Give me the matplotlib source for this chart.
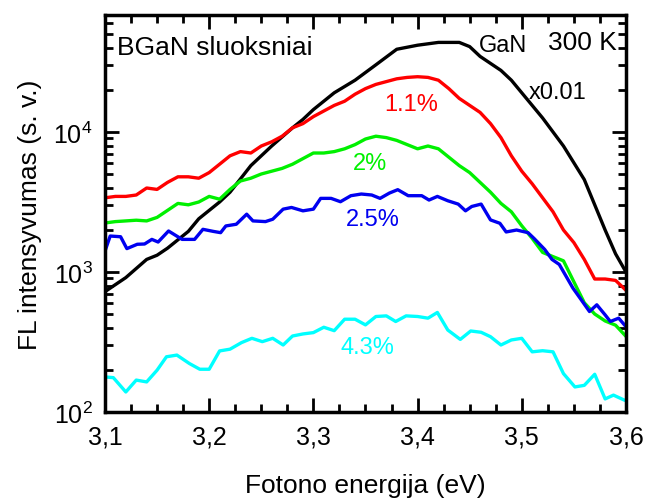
import matplotlib
matplotlib.use("Agg")
import matplotlib.pyplot as plt
from matplotlib.ticker import FixedLocator, MultipleLocator, LogLocator, NullFormatter
import numpy as np

plt.rcParams["font.family"] = ["Liberation Sans", "DejaVu Sans"]
plt.rcParams["mathtext.fontset"] = "custom"
plt.rcParams["mathtext.rm"] = "Liberation Sans"

# GaN (scaled x0.01)
e_gan = [3.10, 3.12, 3.14, 3.15, 3.16, 3.18, 3.19, 3.20, 3.21, 3.22, 3.24, 3.26,
         3.28, 3.29, 3.30, 3.32, 3.34, 3.36, 3.38, 3.40, 3.42, 3.44, 3.45, 3.46,
         3.48, 3.49, 3.50, 3.52, 3.54, 3.56, 3.58, 3.59, 3.60]
i_gan = [724, 912, 1230, 1318, 1479, 1950, 2399, 2754, 3162, 3715, 5754, 7943,
         10715, 12303, 14454, 19055, 23442, 30200, 39000, 41687, 43652, 43652, 40738, 34674,
         27542, 23442, 19055, 12589, 7943, 4571, 1995, 1349, 1000]

# 1.1 % and 2 % samples, 10 meV step
e_step = [3.10, 3.11, 3.12, 3.13, 3.14, 3.15, 3.16, 3.17, 3.18, 3.19, 3.20,
          3.21, 3.22, 3.23, 3.24, 3.25, 3.26, 3.27, 3.28, 3.29, 3.30,
          3.31, 3.32, 3.33, 3.34, 3.35, 3.36, 3.37, 3.38, 3.39, 3.40,
          3.41, 3.42, 3.43, 3.44, 3.45, 3.46, 3.47, 3.48, 3.49, 3.50,
          3.51, 3.52, 3.53, 3.54, 3.55, 3.56, 3.57, 3.58, 3.59, 3.60]
i_11 = [3388, 3467, 3467, 3548, 3981, 3890, 4365, 4786, 4786, 4677, 5129,
        5888, 6761, 7244, 7079, 7943, 8511, 9333, 10715, 11482, 12882,
        14125, 15488, 16596, 18621, 20417, 21878, 22909, 23988, 24547, 24831,
        24547, 23442, 20417, 17378, 15488, 13804, 11482, 9120, 6761, 5248,
        4266, 3388, 2692, 1995, 1622, 1230, 891, 891, 871, 741]
i_2 = [2239, 2291, 2317, 2344, 2317, 2455, 2754, 3090, 3020, 3162, 3467,
       3311, 3890, 4467, 4677, 5012, 5248, 5495, 5888, 6457, 7079,
       7079, 7244, 7586, 8128, 8913, 9333, 9120, 8710, 8128, 7586,
       7943, 7586, 6607, 5754, 5129, 4365, 3715, 3090, 2692, 2138,
       1738, 1380, 1288, 1202, 851, 603, 501, 447, 417, 347]

# 2.5 % sample
e_25 = [3.100, 3.105, 3.115, 3.121, 3.131, 3.138, 3.145, 3.151, 3.161, 3.174,
        3.186, 3.194, 3.204, 3.211, 3.216, 3.226, 3.236, 3.242, 3.254, 3.261,
        3.271, 3.279, 3.290, 3.300, 3.307, 3.317, 3.326, 3.336, 3.346, 3.356,
        3.364, 3.373, 3.381, 3.391, 3.404, 3.411, 3.419, 3.429, 3.439, 3.446,
        3.452, 3.461, 3.470, 3.479, 3.485, 3.495, 3.506, 3.512, 3.522, 3.529,
        3.536, 3.549, 3.557, 3.565, 3.572, 3.580, 3.585, 3.593, 3.600]
i_25 = [1409, 1807, 1786, 1469, 1578, 1585, 1710, 1637, 1963, 1710,
        1710, 2018, 1950, 1910, 2133, 2193, 2588, 2317, 2291, 2382,
        2812, 2891, 2735, 2812, 3357, 3357, 3177, 3508, 3606, 3548,
        3357, 3664, 3873, 3508, 3508, 3266, 3467, 3228, 3055, 2735,
        2938, 3055, 2355, 2228, 1932, 1995, 1910, 1730, 1449, 1230,
        1132, 769, 634, 522, 583, 494, 443, 468, 407]

# 4.3 % sample
e_43 = [3.100, 3.108, 3.120, 3.130, 3.140, 3.150, 3.159, 3.169, 3.181, 3.191,
        3.200, 3.210, 3.220, 3.231, 3.241, 3.251, 3.261, 3.271, 3.280, 3.290,
        3.300, 3.310, 3.320, 3.330, 3.340, 3.350, 3.360, 3.370, 3.379, 3.389,
        3.400, 3.410, 3.419, 3.429, 3.441, 3.451, 3.461, 3.470, 3.480, 3.490,
        3.500, 3.510, 3.520, 3.530, 3.540, 3.551, 3.560, 3.570, 3.580, 3.588,
        3.598]
i_43 = [178, 176, 139, 169, 164, 199, 248, 255, 222, 202,
        202, 273, 281, 313, 336, 318, 336, 301, 349, 361,
        369, 403, 381, 460, 460, 419, 481, 486, 443, 486,
        481, 468, 514, 385, 330, 379, 371, 345, 301, 327,
        336, 269, 274, 269, 188, 151, 155, 186, 124, 132,
        122]

xticks = [3.1, 3.2, 3.3, 3.4, 3.5, 3.6]
xticklabels = ["3,1", "3,2", "3,3", "3,4", "3,5", "3,6"]

fig = plt.figure(figsize=(6.46, 5.02), dpi=100)
ax = fig.add_axes([0.1625, 0.1773, 0.8065, 0.7908])

lw = 2.4
ax.plot(e_gan, i_gan, color="black", lw=lw)
ax.plot(e_step, i_11, color="#ff0000", lw=lw)
ax.plot(e_step, i_2, color="#00f000", lw=lw)
ax.plot(e_25, i_25, color="#0000f0", lw=lw)
ax.plot(e_43, i_43, color="#00ffff", lw=lw)

ax.set_yscale("log")
ax.set_xlim(3.1, 3.6)
ax.set_ylim(100, 68500)

ax.xaxis.set_major_locator(FixedLocator(xticks))
ax.set_xticklabels(xticklabels)
ax.xaxis.set_minor_locator(MultipleLocator(0.025))
ax.yaxis.set_major_locator(FixedLocator([1e2, 1e3, 1e4]))
ax.set_yticklabels([r"$\mathregular{10^2}$", r"$\mathregular{10^3}$", r"$\mathregular{10^4}$"])
ax.yaxis.set_minor_locator(LogLocator(base=10, subs=np.arange(2, 10)))
ax.yaxis.set_minor_formatter(NullFormatter())

ax.tick_params(which="both", direction="in", top=True, right=True, labelsize=18, width=2)
ax.tick_params(which="major", length=10, pad=9)
ax.tick_params(which="minor", length=6)
for s in ax.spines.values():
    s.set_linewidth(2.5)

ax.set_xlabel("Fotono energija (eV)", fontsize=19, labelpad=18)
ax.set_ylabel("FL intensyvumas (s. v.)", fontsize=19, labelpad=8)

tr = ax.transAxes
ax.text(0.023, 0.902, "BGaN sluoksniai", transform=tr, fontsize=19)
ax.text(0.718, 0.909, "GaN", transform=tr, fontsize=17)
ax.text(0.983, 0.914, "300 K", transform=tr, fontsize=19, ha="right")
ax.text(0.814, 0.791, "x0.01", transform=tr, fontsize=17)
ax.text(0.536, 0.761, "1.1%", transform=tr, fontsize=17, color="#ff0000")
ax.text(0.476, 0.612, "2%", transform=tr, fontsize=17, color="#00f000")
ax.text(0.463, 0.471, "2.5%", transform=tr, fontsize=17, color="#0000f0")
ax.text(0.453, 0.149, "4.3%", transform=tr, fontsize=17, color="#00ffff")

fig.savefig("out.png", dpi=100)
